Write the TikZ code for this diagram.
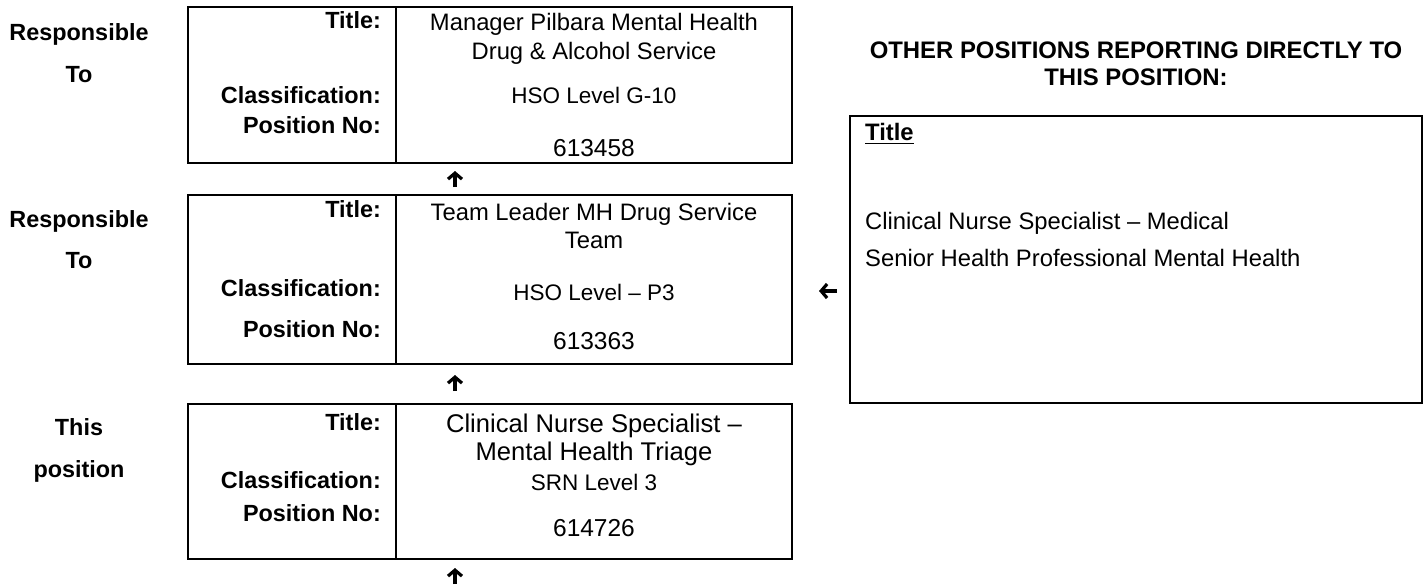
\documentclass[tikz,border=0pt]{standalone}
\usepackage{fontspec}
\setmainfont{Liberation Sans}
\usetikzlibrary{arrows.meta}
\begin{document}
\begin{tikzpicture}[x=1pt,y=-1pt,
  frame/.style={draw,line width=2pt,inner sep=0pt},
  lab/.style={anchor=base east,inner sep=0pt,font=\fontsize{23.4}{28}\selectfont\bfseries},
  side/.style={anchor=base,inner sep=0pt,font=\fontsize{23.4}{28}\selectfont\bfseries},
  val/.style={anchor=base,inner sep=0pt,font=\fontsize{23.8}{28}\selectfont},
  bigval/.style={anchor=base,inner sep=0pt,font=\fontsize{25.6}{30}\selectfont},
  num/.style={anchor=base,inner sep=0pt,font=\fontsize{24.5}{29}\selectfont},
  rtext/.style={anchor=base west,inner sep=0pt,font=\fontsize{23.8}{28}\selectfont},
  head/.style={anchor=base,inner sep=0pt,font=\fontsize{23.9}{28}\selectfont\bfseries},
  uparrow/.style={line width=3.2pt,-{Straight Barb[length=6pt,width=14pt,line width=3.2pt]}}
]
\useasboundingbox (0,0) rectangle (1427,587);

% boxes
\node[frame,minimum width=604pt,minimum height=156pt] (b1) at (490,85) {};
\node[frame,minimum width=604pt,minimum height=169pt] (b2) at (490,279.5) {};
\node[frame,minimum width=604pt,minimum height=155pt] (b3) at (490,481.5) {};
\node[frame,line width=2.4pt,minimum width=572pt,minimum height=287pt] (ob) at (1136,259.5) {};

% dividers
\draw[line width=2pt] (396,0 |- b1.north) -- (396,0 |- b1.south);
\draw[line width=2pt] (396,0 |- b2.north) -- (396,0 |- b2.south);
\draw[line width=2pt] (396,0 |- b3.north) -- (396,0 |- b3.south);

% side labels
\node[side] (s1a) at (79,40) {Responsible};
\node[side] (s1b) at (79,82) {To};
\node[side] (s2a) at (79,227) {Responsible};
\node[side] (s2b) at (79,268) {To};
\node[side] (s3a) at (79,435) {This};
\node[side] (s3b) at (79,477) {position};

% box 1
\node[lab] (t1) at (381,28) {Title:};
\node[lab] (c1) at (381,103) {Classification:};
\node[lab] (p1) at (381,133) {Position No:};
\node[val] (t1a) at (594,30) {Manager Pilbara Mental Health};
\node[val] (t1b) at (594,59) {Drug \& Alcohol Service};
\node[val,font=\fontsize{22.5}{27}\selectfont] (c1v) at (594,103) {HSO Level G-10};
\node[num] (p1v) at (594,156) {613458};

% box 2
\node[lab] (t2) at (381,217) {Title:};
\node[lab] (c2) at (381,296) {Classification:};
\node[lab] (p2) at (381,337) {Position No:};
\node[val] (t2a) at (594,220) {Team Leader MH Drug Service};
\node[val] (t2b) at (594,248) {Team};
\node[val,font=\fontsize{22.5}{27}\selectfont] (c2v) at (594,300) {HSO Level – P3};
\node[num] (p2v) at (594,349) {613363};

% box 3
\node[lab] (t3) at (381,430) {Title:};
\node[lab] (c3) at (381,488) {Classification:};
\node[lab] (p3) at (381,521) {Position No:};
\node[bigval] (t3a) at (594,432) {Clinical Nurse Specialist –};
\node[bigval] (t3b) at (594,460) {Mental Health Triage};
\node[val,font=\fontsize{22.5}{27}\selectfont] (c3v) at (594,490) {SRN Level 3};
\node[num] (p3v) at (594,536) {614726};

% right side
\node[head] (h1) at (1136,58) {OTHER POSITIONS REPORTING DIRECTLY TO};
\node[head] (h2) at (1136,85) {THIS POSITION:};
\node[rtext,font=\fontsize{23.8}{28}\selectfont\bfseries] (ot) at (865,140) {Title};
\draw[line width=1.8pt] ([yshift=-3.5pt]ot.base west) -- ([yshift=-3.5pt]ot.base east);
\node[rtext] (o1) at (865,229) {Clinical Nurse Specialist – Medical};
\node[rtext] (o2) at (865,266) {Senior Health Professional Mental Health};

% arrows
\coordinate (a1s) at (455,187);
\coordinate (a1e) at (455,171);
\coordinate (a2s) at (455,391);
\coordinate (a2e) at (455,375);
\coordinate (a3s) at (455,584);
\coordinate (a3e) at (455,568);
\coordinate (a4s) at (837,291);
\coordinate (a4e) at (819,291);
\draw[uparrow] (a1s) -- (a1e);
\draw[uparrow] (a2s) -- (a2e);
\draw[uparrow] (a3s) -- (a3e);
\draw[uparrow] (a4s) -- (a4e);
\end{tikzpicture}
\end{document}
